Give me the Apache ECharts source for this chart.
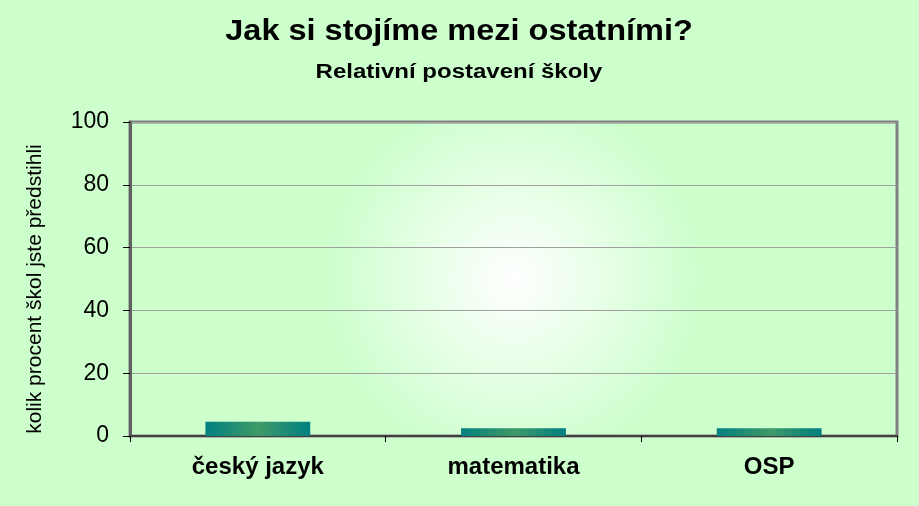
<!DOCTYPE html>
<html>
<head>
<meta charset="utf-8">
<script src="https://cdn.jsdelivr.net/npm/echarts@6/dist/echarts.min.js"></script>
<style>
html,body{margin:0;padding:0;background:#ccffcc;}
#chart{width:919px;height:506px;}
</style>
</head>
<body>
<div id="chart"></div>
<script>
var categories = ['český jazyk', 'matematika', 'OSP'];
var values = [4.5, 2.5, 2.5];
var yTicks = [0, 20, 40, 60, 80, 100];
var titleText = 'Jak si stojíme mezi ostatními?';
var subtitleText = 'Relativní postavení školy';

var chart = echarts.init(document.getElementById('chart'));
var option = {
	backgroundColor: '#ccffcc',
	// nadpisy jsou v originale roztazene do sirky
	graphic: [
		{
			type: 'text', x: 459, y: 32, scaleX: 1.12,
			style: {text: titleText, textAlign: 'center', textVerticalAlign: 'middle',
				font: 'bold 29px "Liberation Sans"', fill: '#000'}
		},
		{
			type: 'text', x: 459, y: 72, scaleX: 1.2,
			style: {text: subtitleText, textAlign: 'center', textVerticalAlign: 'middle',
				font: 'bold 20px "Liberation Sans"', fill: '#000'}
		}
	],
	grid: {left: 130, right: 22, top: 122, bottom: 70, show: true,
		borderColor: '#808080', borderWidth: 3,
		backgroundColor: new echarts.graphic.RadialGradient(0.5, 0.5, 0.6, [
			{offset: 0, color: '#ffffff'},
			{offset: 1, color: '#ccffcc'}
		])
	},
	xAxis: {
		type: 'category',
		data: categories,
		axisLine: {lineStyle: {color: '#404040', width: 2}},
		axisTick: {show: true, length: 6, lineStyle: {color: '#000', width: 1}},
		axisLabel: {fontFamily: 'Liberation Sans', fontSize: 24, fontWeight: 'bold', color: '#000', margin: 19}
	},
	yAxis: {
		type: 'value',
		min: 0, max: 100, interval: 20,
		name: 'kolik procent škol jste předstihli',
		nameLocation: 'middle',
		nameGap: 84,
		nameTextStyle: {fontFamily: 'Liberation Sans', fontSize: 21, color: '#000', padding: [0, 20, 0, 0]},
		axisLine: {show: true, lineStyle: {color: '#606060', width: 3}},
		axisTick: {show: true, length: 7, lineStyle: {color: '#000', width: 1}},
		axisLabel: {fontFamily: 'Liberation Sans', fontSize: 23, color: '#000', margin: 21},
		splitLine: {lineStyle: {color: '#a0a0a0', width: 1}}
	},
	series: [{
		type: 'bar',
		data: values,
		barWidth: '41%',
		itemStyle: {
			color: new echarts.graphic.LinearGradient(0, 0, 1, 0, [
				{offset: 0, color: '#008080'},
				{offset: 0.5, color: '#3f9a68'},
				{offset: 1, color: '#008080'}
			])
		}
	}]
};
chart.setOption(option);
</script>
</body>
</html>
